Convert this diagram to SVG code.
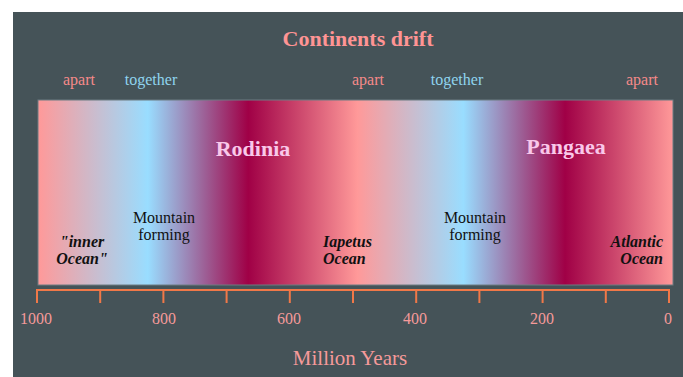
<svg xmlns="http://www.w3.org/2000/svg" width="683" height="377" viewBox="0 0 683 377">
  <defs>
    <linearGradient id="drift" x1="38" y1="0" x2="673" y2="0" gradientUnits="userSpaceOnUse">
      <stop offset="0" stop-color="#ff9999"/>
      <stop offset="0.173" stop-color="#99ddff"/>
      <stop offset="0.331" stop-color="#a00046"/>
      <stop offset="0.503" stop-color="#ff9999"/>
      <stop offset="0.670" stop-color="#99ddff"/>
      <stop offset="0.830" stop-color="#a00046"/>
      <stop offset="1" stop-color="#ff9999"/>
    </linearGradient>
    <style>
      .serif { font-family: "Liberation Serif", "DejaVu Serif", serif; }
      .title { font-size: 22px; font-weight: bold; fill: #ff9494; }
      .apart { font-size: 16px; fill: #f58a8a; }
      .together { font-size: 16px; fill: #8fd3ee; }
      .continent { font-size: 22px; font-weight: bold; fill: #f9c8ea; }
      .mount { font-size: 16px; fill: #111; }
      .ocean { font-size: 16px; font-weight: bold; font-style: italic; fill: #111; }
      .tick { font-size: 16px; fill: #f59a9a; }
      .axis { stroke: #f07848; stroke-width: 2; fill: none; }
    </style>
  </defs>
  <rect x="0" y="0" width="683" height="377" fill="#ffffff"/>
  <rect x="13" y="12" width="670" height="365" fill="#455358"/>

  <text class="serif title" x="358" y="46" text-anchor="middle">Continents drift</text>

  <g id="phase-labels" class="serif">
    <text class="apart" x="79" y="85" text-anchor="middle">apart</text>
    <text class="together" x="151" y="85" text-anchor="middle">together</text>
    <text class="apart" x="368" y="85" text-anchor="middle">apart</text>
    <text class="together" x="457" y="85" text-anchor="middle">together</text>
    <text class="apart" x="642" y="85" text-anchor="middle">apart</text>
  </g>

  <g id="band">
    <rect x="38" y="100" width="635" height="185" fill="url(#drift)" stroke="#6d7c82" stroke-width="1"/>
  </g>

  <g id="rodinia" class="serif"><text class="continent" x="253" y="156" text-anchor="middle">Rodinia</text></g>
  <g id="pangaea" class="serif"><text class="continent" x="566" y="154" text-anchor="middle">Pangaea</text></g>

  <g id="mountain1" class="serif">
    <text class="mount" x="164" y="222.5" text-anchor="middle">Mountain</text>
    <text class="mount" x="164" y="240" text-anchor="middle">forming</text>
  </g>
  <g id="mountain2" class="serif">
    <text class="mount" x="475" y="222.5" text-anchor="middle">Mountain</text>
    <text class="mount" x="475" y="240" text-anchor="middle">forming</text>
  </g>

  <g id="inner-ocean" class="serif">
    <text class="ocean" x="82" y="246.5" text-anchor="middle">"inner</text>
    <text class="ocean" x="82" y="263.5" text-anchor="middle">Ocean"</text>
  </g>
  <g id="iapetus-ocean" class="serif">
    <text class="ocean" x="323" y="246.5">Iapetus</text>
    <text class="ocean" x="323" y="263.5">Ocean</text>
  </g>
  <g id="atlantic-ocean" class="serif">
    <text class="ocean" x="663" y="246.5" text-anchor="end">Atlantic</text>
    <text class="ocean" x="663" y="263.5" text-anchor="end">Ocean</text>
  </g>

  <g id="connectors">
    <path class="axis" d="M37 290 H669 M37 289 V303 M100.2 289 V303 M163.4 289 V303 M226.6 289 V303 M289.8 289 V303 M353 289 V303 M416.2 289 V303 M479.4 289 V303 M542.6 289 V303 M605.8 289 V303 M669 289 V303"/>
  </g>

  <g id="tick-labels" class="serif">
    <text class="tick" x="36" y="324" text-anchor="middle">1000</text>
    <text class="tick" x="164" y="324" text-anchor="middle">800</text>
    <text class="tick" x="289" y="324" text-anchor="middle">600</text>
    <text class="tick" x="415" y="324" text-anchor="middle">400</text>
    <text class="tick" x="542" y="324" text-anchor="middle">200</text>
    <text class="tick" x="668" y="324" text-anchor="middle">0</text>
  </g>

  <text class="serif" x="350" y="365" text-anchor="middle" font-size="21" fill="#f59a9a">Million Years</text>
</svg>
